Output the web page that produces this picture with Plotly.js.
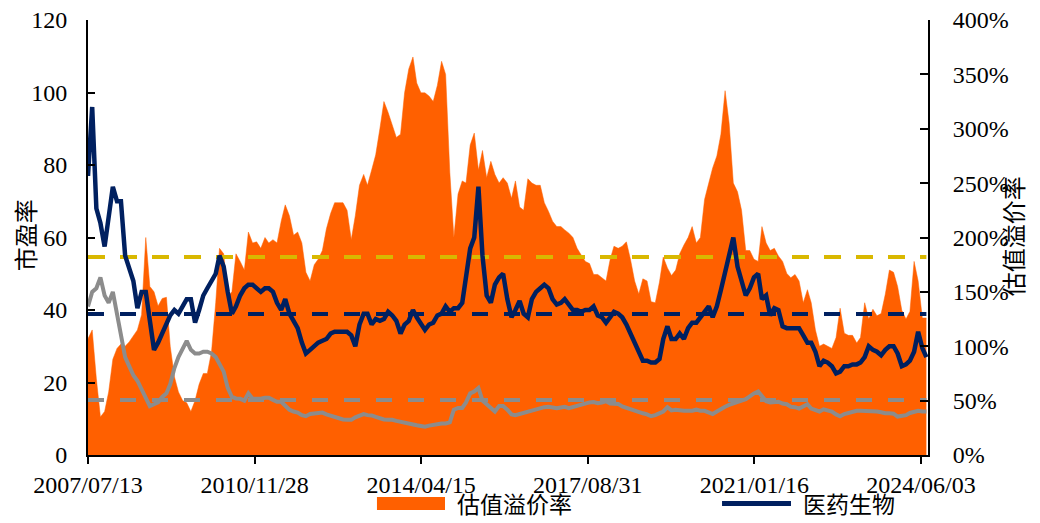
<!DOCTYPE html>
<html><head><meta charset="utf-8">
<script src="https://cdn.plot.ly/plotly-3.0.1.min.js"></script>
<style>html,body{margin:0;padding:0;background:#fff}#chart{width:1040px;height:523px}</style>
</head><body><div id="chart"></div>
<script>
// monthly observations (mid-month), Jul 2007 - Jul 2024
const startYear = 2007, startMonth = 7, nPoints = 205;
const dates = [];
for (let i = 0; i < nPoints; i++) {
  const y = startYear + Math.floor((startMonth - 1 + i) / 12);
  const m = (startMonth - 1 + i) % 12 + 1;
  dates.push(y + '-' + String(m).padStart(2, '0') + '-13');
}

// 估值溢价率 (%), right axis
const premium = [
107,115,70,35,40,58,88,98,102,100,104,110,115,129,200,155,150,137,144,145,
100,72,58,50,48,40,50,65,75,75,95,140,190,185,145,150,185,178,170,205,
195,196,190,200,195,198,195,215,230,220,202,205,195,168,160,175,180,188,208,222,
232,232,232,225,198,220,248,258,248,262,276,300,325,315,304,292,295,333,355,366,
342,333,333,330,325,340,362,350,260,200,240,252,250,285,296,262,280,255,270,258,
250,255,250,236,252,228,225,254,250,248,248,232,224,215,210,210,207,204,200,190,
184,178,176,166,166,163,160,180,192,190,192,196,180,160,148,162,160,141,140,159,
182,172,165,170,185,193,200,210,195,200,235,250,264,275,295,335,305,250,242,225,
188,188,180,178,210,195,188,190,183,178,167,163,166,160,140,152,140,115,100,102,
100,98,108,135,112,110,110,103,108,140,125,134,128,130,148,170,168,155,133,125,
132,178,160,126,126
];

// 医药生物 市盈率, left axis
const pePharma = [
77,96,68,64,57.5,66,74,70,70,55,51.5,48,40.5,45,45,36,29,31,33.5,36,
38.5,40,39,41,43,43,36.5,40,44,46,48,50,55,52,45,39,41,44,46,47,
47,46,45,46,46,45,42,40,43,39,37,35,31,28,29,30,31,31.5,32,33.5,
34,34,34,34,33,30,36,39,39,36,37.5,37,37.5,39.5,38.5,37,33.5,36,37,40,
38,36,34.5,36,36.5,38.5,39,41,39.5,40.5,40.5,42,49,57,60,74,55,44,42,47,
49,50,43,38,40,42.5,39,38,43,45,46,47,46,43,41.5,42,43,41.5,40,40,
39.5,40,40,41,38.5,38,36.5,38,39.5,39,38,36,33.5,31,28.5,26,26,25.5,25.5,26.5,
32,35.5,32,32,33.5,32,35,36.5,36.5,38,39.5,41,38,41,45.5,50,55,60,52,48,
44,46,49,50,43,44,38.5,40.5,40,35.5,35,35,35,35,33,31,31,28.5,24.5,26,
25.5,24.5,22.5,23,24.5,24.5,25,25,25.5,27,30,29,28.5,27.5,29,30,30,28,24.5,25,
26,28.5,34,29.5,27
];

// 对比基准 市盈率, left axis
const peMarket = [
41,45,46,49,44,42,45,39,32,27,24.5,22,20.5,18,15.5,13.5,14,14.5,16,17,
19.5,24,27,29.5,31.5,29,28,28,28.5,28.5,28,27,25,23,18.5,16,15.6,15.5,15,17,
15.5,15.5,15.5,15.8,15.8,15.2,14.7,14.7,13.5,12.5,12,11.7,11,10.7,11.3,11.5,11.5,11.7,11.2,10.8,
10.6,10.1,9.8,9.7,9.7,10.4,11,11.3,11,10.9,10.5,10,9.8,9.7,9.7,9.4,9.1,8.8,8.5,8.3,
8.2,8,7.8,8.1,8.3,8.7,8.7,8.7,9,12.5,13,13,14.5,17,17.5,18.5,15,14,13,12,
13.5,13.5,12.5,11.2,11,11.3,11.8,12,12.3,12.6,12.8,13.2,13.3,13.2,12.9,13.1,13.3,12.9,13.2,13.6,
14,14.3,14.5,14.6,14.3,14.5,14.8,14.2,14.2,14.1,13.4,13,12.4,12,11.6,11.5,11.2,10.7,11,11.5,
12,13.2,12.3,12.5,12.3,12.2,12.2,12.2,12.5,12.2,12.2,11.7,11.3,12,12.8,13.3,13.8,14.3,14.8,15,
15.4,16.2,17,17.5,16,14.8,14.5,14.7,14.7,14.2,14,13.3,13.2,12.8,13.5,14,12.8,12.3,12,12.6,
12.4,12,11.2,10.7,11.3,11.6,12,12.2,12.2,12.2,12,12,12,11.8,11.5,11.5,11.4,10.6,10.9,11,
11.6,12,12.2,12,12
];

// historical means (dashed reference lines)
const meanPremium = 182;
const meanPharma = 38.9;
const meanMarket = 15.2;

const tickDates = ['2007-07-13','2010-11-28','2014-04-15','2017-08-31','2021-01-16','2024-06-03'];
const tickLabels = ['2007/07/13','2010/11/28','2014/04/15','2017/08/31','2021/01/16','2024/06/03'];
const legendNames = ['估值溢价率', '医药生物'];
const axisTitles = ['市盈率', '估值溢价率'];

const serif = 'Liberation Serif, Times New Roman, Noto Sans CJK SC, serif';
const cjk = 'Liberation Serif, Noto Sans CJK SC, serif';
const ORANGE = '#FF6000', NAVY = '#002060', GRAY = '#8C8C8C', GOLD = '#D9B800';
const first = dates[0], last = dates[dates.length - 1];

const traces = [
  {x: dates, y: premium, type: 'scatter', mode: 'lines', fill: 'tozeroy',
   fillcolor: ORANGE, line: {color: ORANGE, width: 0.5}, name: legendNames[0],
   yaxis: 'y', showlegend: false},
  {x: [first, last], y: [meanPremium, meanPremium], type: 'scatter', mode: 'lines',
   line: {color: GOLD, width: 4, dash: '17px,15px'}, showlegend: false, yaxis: 'y'},
  {x: dates, y: peMarket, type: 'scatter', mode: 'lines',
   line: {color: GRAY, width: 4}, showlegend: false, yaxis: 'y2'},
  {x: [first, last], y: [meanMarket, meanMarket], type: 'scatter', mode: 'lines',
   line: {color: GRAY, width: 4, dash: '16px,16px'}, showlegend: false, yaxis: 'y2'},
  {x: dates, y: pePharma, type: 'scatter', mode: 'lines',
   line: {color: NAVY, width: 4.5}, name: legendNames[1], yaxis: 'y2', showlegend: false},
  {x: [first, last], y: [meanPharma, meanPharma], type: 'scatter', mode: 'lines',
   line: {color: NAVY, width: 4, dash: '16px,16px'}, showlegend: false, yaxis: 'y2'}
];

const axisCommon = {showline: true, linewidth: 2, linecolor: '#000', showgrid: false, zeroline: false,
                    tickwidth: 2, tickcolor: '#000', tickfont: {family: serif, size: 24, color: '#000'},
                    automargin: false};

const layout = {
  width: 1040, height: 523,
  margin: {l: 88, r: 112, t: 20, b: 68, pad: 0, autoexpand: false},
  paper_bgcolor: '#fff', plot_bgcolor: 'rgba(0,0,0,0)',
  font: {family: serif, size: 24, color: '#000'},
  showlegend: false,
  xaxis: Object.assign({}, axisCommon, {type: 'date', range: ['2007-07-13', '2024-07-25'],
          tickvals: tickDates, ticktext: tickLabels, ticks: 'outside', ticklen: 7}),
  yaxis: Object.assign({}, axisCommon, {side: 'right', range: [0, 400], dtick: 50, ticksuffix: '%',
          ticks: 'inside', ticklen: 8, ticklabelstandoff: 18}),
  yaxis2: Object.assign({}, axisCommon, {side: 'left', overlaying: 'y', range: [0, 120], dtick: 20,
           ticks: 'inside', ticklen: 7, ticklabelstandoff: 14}),
  shapes: [
    {type: 'rect', xref: 'paper', yref: 'paper', x0: 0.3440, x1: 0.4250, y0: -0.1264, y1: -0.0966,
     fillcolor: ORANGE, line: {width: 0}},
    {type: 'line', xref: 'paper', yref: 'paper', x0: 0.7548, x1: 0.8369, y0: -0.1115, y1: -0.1115,
     line: {color: NAVY, width: 5}}
  ],
  annotations: [
    {text: axisTitles[0], xref: 'paper', yref: 'paper', x: -0.0726, y: 0.505, xanchor: 'center', yanchor: 'middle',
     textangle: -90, showarrow: false, font: {family: cjk, size: 24, color: '#000'}},
    {text: axisTitles[1], xref: 'paper', yref: 'paper', x: 1.1036, y: 0.503, xanchor: 'center', yanchor: 'middle',
     textangle: -90, showarrow: false, font: {family: cjk, size: 24, color: '#000'}},
    {text: legendNames[0], xref: 'paper', yref: 'paper', x: 0.4369, y: -0.1172, xanchor: 'left', yanchor: 'middle',
     showarrow: false, font: {family: cjk, size: 23, color: '#000'}},
    {text: legendNames[1], xref: 'paper', yref: 'paper', x: 0.8488, y: -0.1172, xanchor: 'left', yanchor: 'middle',
     showarrow: false, font: {family: cjk, size: 23, color: '#000'}}
  ]
};

Plotly.newPlot('chart', traces, layout, {staticPlot: true, displayModeBar: false});
</script></body></html>
